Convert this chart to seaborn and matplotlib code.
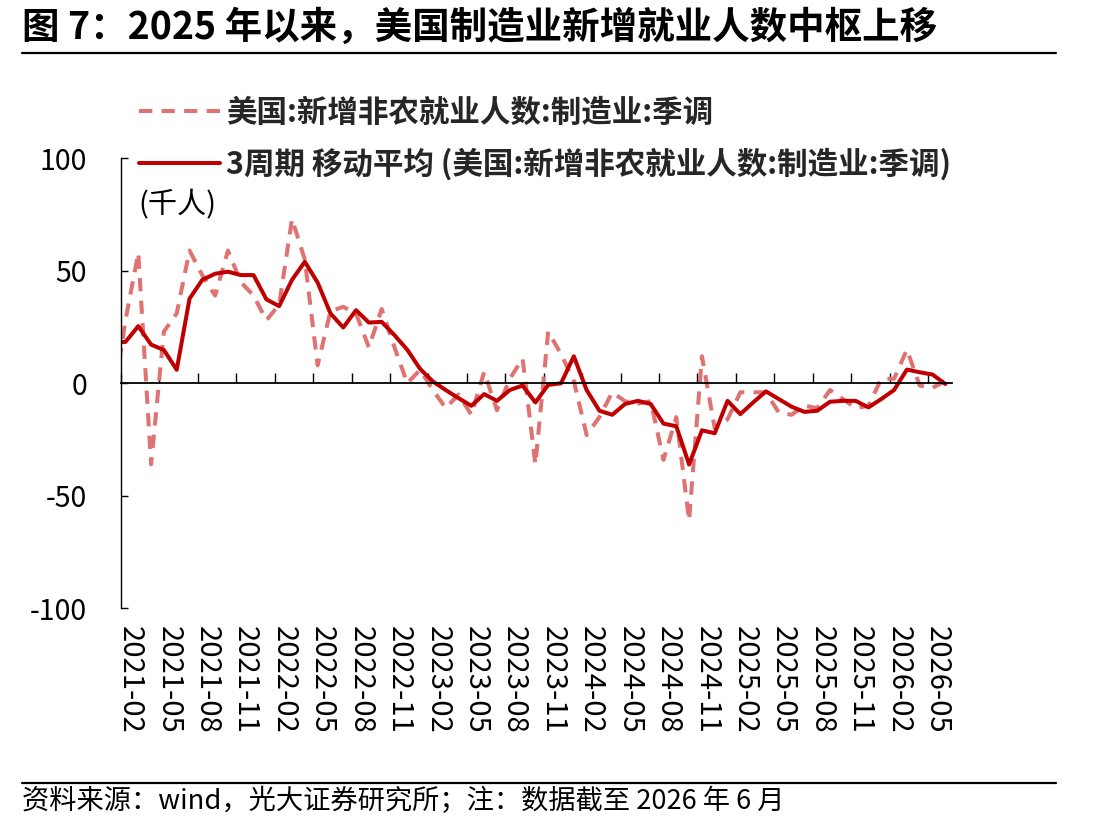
import numpy as np
import pandas as pd
import matplotlib
matplotlib.use("Agg")
import matplotlib.pyplot as plt
import matplotlib.transforms as mtransforms
import seaborn as sns

# ---------------- data (monthly, 2021-01 .. 2026-06) ----------------
months = [f"{y}-{m:02d}" for y in range(2021, 2027) for m in range(1, 13)][:66]

monthly_change = [
    -10, 28, 58, -36, 23, 31, 59, 48, 39, 59, 45, 39,        # 2021
    28, 35, 73, 55, 8, 32, 34, 31, 16, 33, 16, 0,            # 2022
    6, -3, -11, -5, -14, 5, -12, 2, 11, -36, 23, 13,         # 2023
    1, -23, -15, -4, -8, -9, -8, -34, -15, -61, 12, -20,     # 2024
    -16, -4, -4, -4, -13, -14, -10, -11, -3, -7, -11, -10,   # 2025
    2, 2, 15, -1, -2, 1,                                     # 2026
]

moving_avg_3m = [
    18, 18.4, 25.4, 17.2, 14.8, 6, 37.6, 46, 48.7, 49.6, 48.1, 48.1,
    37.3, 34.3, 46, 54, 44.8, 31.1, 24.8, 32.5, 27, 27.3, 21.4, 14.9,
    6.4, 0.8, -3, -6.6, -10, -4.8, -7.8, -3, -1, -8.5, -0.7, 0,
    12, -3, -12.2, -14, -9.2, -7.8, -9.2, -17.9, -19.1, -36.1, -20.9, -22.2,
    -7.8, -13.7, -8.5, -3.6, -7, -10.4, -12.7, -12.2, -8.2, -7.8, -7.8, -10.7,
    -7, -3, 6.1, 4.9, 3.9, -0.3,
]

tick_labels = months[1:66:3]          # 2021-02, 2021-05, ..., 2026-05
y_ticks = [-100, -50, 0, 50, 100]

label_dashed = "美国:新增非农就业人数:制造业:季调"
label_solid = "3周期 移动平均 (美国:新增非农就业人数:制造业:季调)"
title = "图 7：2025 年以来，美国制造业新增就业人数中枢上移"
source = "资料来源：wind，光大证券研究所；注：数据截至 2026 年 6 月"
unit = "(千人)"

# ---------------- table ----------------
df = pd.DataFrame({
    "month": months,
    "pos": np.arange(len(months)) - 1 + 0.35,   # month index, 2021-02 = 0, mid-month offset
    "monthly": monthly_change,
    "ma3": moving_avg_3m,
})

# ---------------- style ----------------
sns.set_theme(style="white")
plt.rcParams["font.family"] = ["Noto Sans CJK SC", "DejaVu Sans"]
plt.rcParams["axes.unicode_minus"] = False

fig = plt.figure(figsize=(11.14, 8.31), dpi=100)
ax = fig.add_axes([0.1086, 0.268, 0.7463, 0.5415])

DASH_COLOR = "#E07272"
SOLID_COLOR = "#C00000"

sns.lineplot(data=df, x="pos", y="monthly", ax=ax, color=DASH_COLOR,
             linewidth=2.9, linestyle=(0, (3.3, 2.3)), label=label_dashed,
             sort=False)
sns.lineplot(data=df, x="pos", y="ma3", ax=ax, color=SOLID_COLOR,
             linewidth=2.9, label=label_solid, sort=False)
for ln in ax.get_lines():
    ln.set_solid_joinstyle("round")

ax.set_xlim(0, 64.9)
ax.set_ylim(-100, 100)
ax.set_xlabel("")
ax.set_ylabel("")

# spines
for s in ["top", "right"]:
    ax.spines[s].set_visible(False)
ax.spines["left"].set_color("black")
ax.spines["left"].set_linewidth(1.0)
ax.spines["bottom"].set_position(("data", 0))
ax.spines["bottom"].set_color("black")
ax.spines["bottom"].set_linewidth(1.3)

# y ticks
ax.set_yticks(y_ticks)
ax.set_yticklabels([str(v) for v in y_ticks])
ax.tick_params(axis="y", direction="in", length=5, width=1.0, color="black",
               left=True, labelsize=20.5, pad=24.5, labelcolor="black")

# x ticks
ax.set_xticks(np.arange(0, 64, 3))
ax.set_xticklabels(tick_labels, rotation=-90, va="top", ha="center")
ax.tick_params(axis="x", direction="in", length=7, width=1.0, color="black",
               bottom=True, labelsize=21, pad=175, labelcolor="black")
offset = mtransforms.ScaledTranslation(9 / 100, 0, fig.dpi_scale_trans)
for lbl in ax.get_xticklabels():
    lbl.set_transform(lbl.get_transform() + offset)

ax.grid(False)

# legend
leg = ax.legend(loc="upper left", bbox_to_anchor=(111 / 1114, 1 - 69 / 831),
                bbox_transform=fig.transFigure, frameon=False,
                prop={"weight": "bold", "size": 22},
                handlelength=2.68, handletextpad=0.2, labelspacing=0.64,
                borderpad=0.4)

# unit
fig.text(138 / 1114, 1 - 205 / 831, unit, fontsize=21, va="center", ha="left",
         color="black")

# title and rules
fig.text(22 / 1114, 1 - 27 / 831, title, fontsize=27, fontweight="bold",
         va="center", ha="left", color="black")
fig.add_artist(plt.Line2D([22 / 1114, 1056 / 1114], [1 - 53 / 831, 1 - 53 / 831],
                          color="black", linewidth=1.6))
fig.add_artist(plt.Line2D([22 / 1114, 1056 / 1114], [1 - 783 / 831, 1 - 783 / 831],
                          color="black", linewidth=1.6))
fig.text(22 / 1114, 1 - 801 / 831, source, fontsize=19.6, va="center", ha="left",
         color="black")

fig.savefig("out.png", dpi=100, facecolor="white")
